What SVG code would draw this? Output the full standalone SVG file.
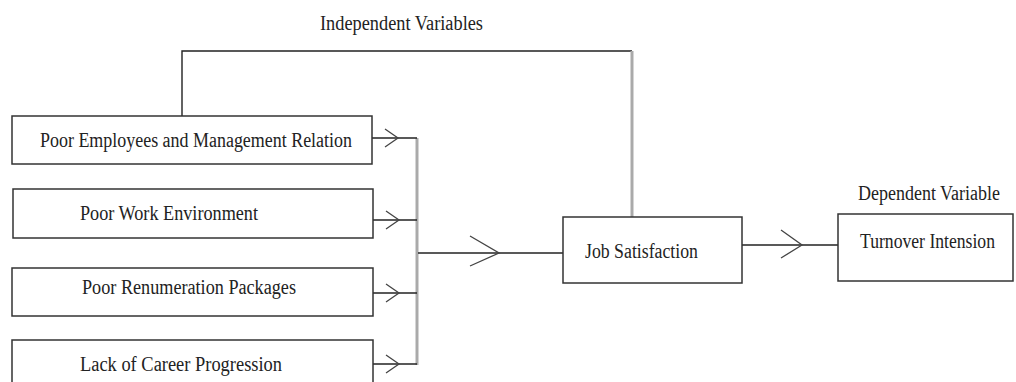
<svg xmlns="http://www.w3.org/2000/svg" width="1016" height="382" viewBox="0 0 1016 382">
<style>
.box{fill:#fff;stroke:#333;stroke-width:1.5}
.t{font-family:"Liberation Serif","Times New Roman",serif;font-size:20px;fill:#222}
.ln{stroke:#222;stroke-width:1.4;fill:none}
.gr{stroke:#aaa;stroke-width:3;fill:none}
.chev{stroke:#444;stroke-width:1.3;fill:none}
</style>
<rect width="1016" height="382" fill="#fff"/>
<g id="connectors">
<polyline class="ln" points="182,116 182,51 632,51"/>
<line class="gr" x1="632" y1="51" x2="632" y2="217"/>
<line class="gr" x1="417" y1="138" x2="417" y2="365"/>
<line class="ln" x1="372" y1="138" x2="417" y2="138"/>
<line class="ln" x1="373" y1="220" x2="417" y2="220"/>
<line class="ln" x1="373" y1="293" x2="417" y2="293"/>
<line class="ln" x1="373" y1="364" x2="417" y2="364"/>
<polyline class="chev" points="385,129 398,138 385,147"/>
<polyline class="chev" points="386,211 399,220 386,229"/>
<polyline class="chev" points="386,284 399,293 386,302"/>
<polyline class="chev" points="386,355 399,364 386,373"/>
<line class="ln" x1="418" y1="253" x2="563" y2="253"/>
<polyline class="chev" points="470,236 499,253 470,266"/>
<line class="ln" x1="742" y1="245" x2="838" y2="245"/>
<polyline class="chev" points="781,230 802,245 781,258"/>
</g>
<g id="label-independent">
<text class="t" x="320" y="30" textLength="163" lengthAdjust="spacingAndGlyphs">Independent Variables</text>
</g>
<g id="node-relation">
<rect class="box" x="12" y="116" width="360" height="48"/>
<text class="t" x="40" y="147" textLength="312" lengthAdjust="spacingAndGlyphs">Poor Employees and Management Relation</text>
</g>
<g id="node-environment">
<rect class="box" x="13" y="189" width="360" height="49"/>
<text class="t" x="80" y="220" textLength="178" lengthAdjust="spacingAndGlyphs">Poor Work Environment</text>
</g>
<g id="node-remuneration">
<rect class="box" x="12" y="268" width="361" height="48"/>
<text class="t" x="82" y="294" textLength="214" lengthAdjust="spacingAndGlyphs">Poor Renumeration Packages</text>
</g>
<g id="node-career">
<rect class="box" x="12" y="340" width="361" height="50"/>
<text class="t" x="80" y="371" textLength="202" lengthAdjust="spacingAndGlyphs">Lack of Career Progression</text>
</g>
<g id="node-job">
<rect class="box" x="563" y="217" width="179" height="66"/>
<text class="t" x="585" y="258" textLength="113" lengthAdjust="spacingAndGlyphs">Job Satisfaction</text>
</g>
<g id="label-dependent">
<text class="t" x="858" y="200" textLength="142" lengthAdjust="spacingAndGlyphs">Dependent Variable</text>
</g>
<g id="node-turnover">
<rect class="box" x="838" y="214" width="175" height="67"/>
<text class="t" x="860" y="248" textLength="135" lengthAdjust="spacingAndGlyphs">Turnover Intension</text>
</g>
</svg>
